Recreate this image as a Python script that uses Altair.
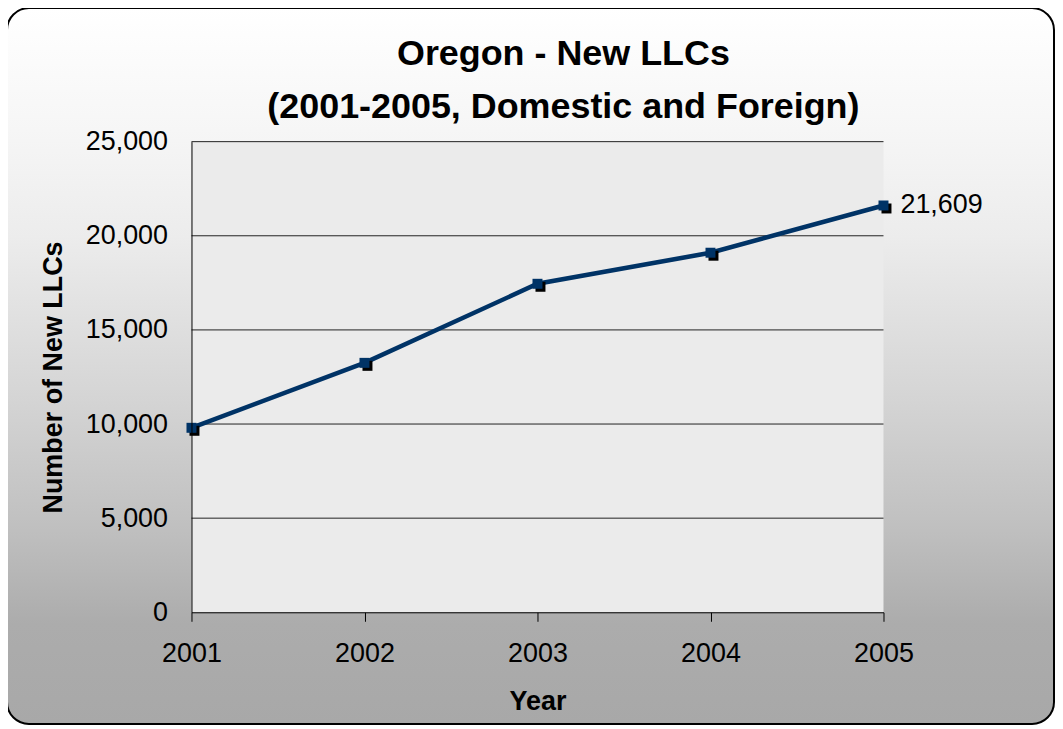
import altair as alt
import pandas as pd

# ---- data ----
years = [2001, 2002, 2003, 2004, 2005]
new_llcs = [9800, 13250, 17450, 19100, 21609]
y_ticks = [0, 5000, 10000, 15000, 20000, 25000]
title_line1 = "Oregon - New LLCs"
title_line2 = "(2001-2005, Domestic and Foreign)"
x_title = "Year"
y_title = "Number of New LLCs"

df = pd.DataFrame({"Year": years, "LLCs": new_llcs})
grid_df = pd.DataFrame({"LLCs": y_ticks[1:]})

W, H = 694, 472
FONT = "Liberation Sans"
NAVY = "#003366"

x_scale = alt.Scale(domain=[years[0], years[-1]], nice=False, zero=False)
y_scale = alt.Scale(domain=[y_ticks[0], y_ticks[-1]], nice=False)

one = alt.Data(values=[{}])

gradient = alt.LinearGradient(
    gradient="linear", x1=0, y1=0, x2=0, y2=1,
    stops=[
        alt.GradientStop(color="#ffffff", offset=0.0),
        alt.GradientStop(color="#f6f6f6", offset=0.17),
        alt.GradientStop(color="#ececec", offset=0.32),
        alt.GradientStop(color="#d4d4d4", offset=0.55),
        alt.GradientStop(color="#bfbfbf", offset=0.73),
        alt.GradientStop(color="#acacac", offset=0.86),
        alt.GradientStop(color="#a8a8a8", offset=1.0),
    ],
)

bg = alt.Chart(one).mark_rect(
    fill=gradient, stroke="black", strokeWidth=2, cornerRadius=22
).encode(x=alt.value(-185), x2=alt.value(865), y=alt.value(-134), y2=alt.value(584))

plot_bg = alt.Chart(one).mark_rect(fill="#ebebeb").encode(
    x=alt.value(0), x2=alt.value(W), y=alt.value(0), y2=alt.value(H)
)

x_axis = alt.Axis(
    values=years, labelExpr="format(datum.value, 'd')", title=x_title, grid=False,
    zindex=2, labelFlush=False,
    tickSize=9, labelPadding=19, titleBaseline="alphabetic", titleY=97,
)
y_axis = alt.Axis(
    values=y_ticks, labelExpr="format(datum.value, ',')", title=y_title, grid=False,
    ticks=False, zindex=2,
    labelPadding=24, labelFlush=False, titleAngle=270, titleBaseline="alphabetic",
    titleAlign="center", titleX=-130, titleY=H / 2,
)

grid = alt.Chart(grid_df).mark_rule(color="#222222", strokeWidth=1).encode(
    y=alt.Y("LLCs:Q", scale=y_scale, axis=y_axis)
)

base = alt.Chart(df)
x_enc = alt.X("Year:Q", scale=x_scale, axis=x_axis)
y_enc = alt.Y("LLCs:Q", scale=y_scale, axis=y_axis)

line = base.mark_line(color=NAVY, strokeWidth=4.5).encode(x=x_enc, y=y_enc)
shadow = base.mark_square(size=100, color="black", opacity=1, xOffset=3, yOffset=3).encode(
    x=x_enc, y=y_enc
)
squares = base.mark_square(size=100, color=NAVY, opacity=1).encode(x=x_enc, y=y_enc)
label = base.transform_filter(alt.datum.Year == years[-1]).mark_text(
    align="left", baseline="middle", dx=17, fontSize=27, font=FONT, color="black"
).encode(x=x_enc, y=y_enc, text=alt.Text("LLCs:Q", format=","))

TITLE_CX = 373
t1 = alt.Chart(one).mark_text(
    text=title_line1, fontSize=36, fontWeight="bold", font=FONT, align="center",
    baseline="alphabetic", color="black"
).encode(x=alt.value(TITLE_CX), y=alt.value(-77))
t2 = alt.Chart(one).mark_text(
    text=title_line2, fontSize=36, fontWeight="bold", font=FONT, align="center",
    baseline="alphabetic", color="black"
).encode(x=alt.value(TITLE_CX), y=alt.value(-24))

chart = alt.layer(bg, plot_bg, grid, line, shadow, squares, label, t1, t2).properties(
    width=W, height=H,
    autosize=alt.AutoSizeParams(type="none"),
    padding={"left": 184, "top": 133, "right": 172, "bottom": 113},
    background="white",
).configure_axis(
    labelFont=FONT, labelFontSize=27, labelColor="black",
    titleFont=FONT, titleFontSize=27, titleFontWeight="bold", titleColor="black",
    domainColor="black", domainWidth=1, tickColor="black", tickWidth=1,
).configure_view(stroke="transparent")

chart.save("out.html", embed_options={"renderer": "svg", "actions": False})
